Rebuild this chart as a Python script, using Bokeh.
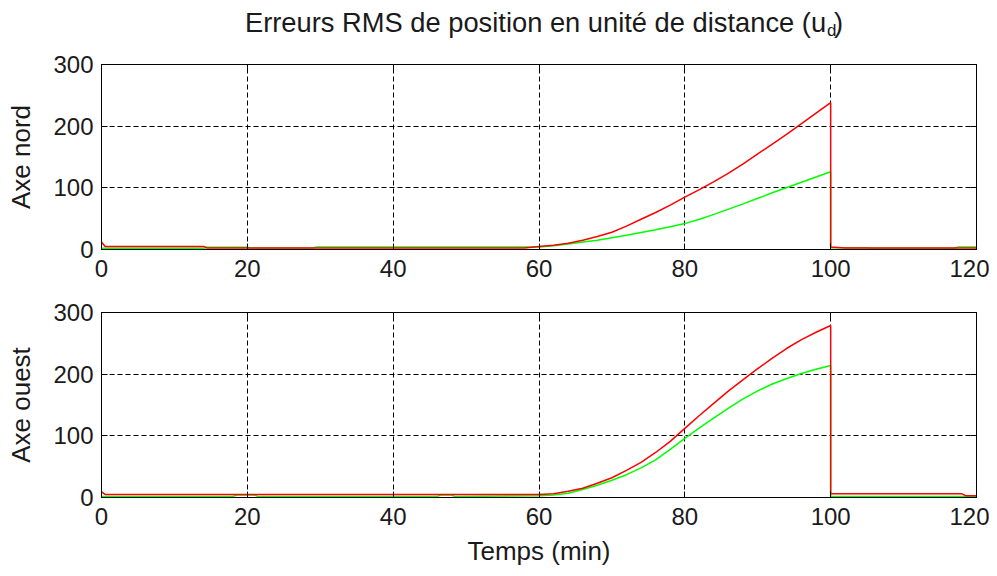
from bokeh.plotting import figure
from bokeh.layouts import column
from bokeh.models import Range1d, FixedTicker, LinearAxis, Label
from bokeh.embed import file_html
from bokeh.resources import INLINE

# ---------------- data ----------------
x_ticks = [0, 20, 40, 60, 80, 100, 120]
y_ticks = [0, 100, 200, 300]

title_main = "Erreurs RMS de position en unité de distance (u"
title_sub = "d"
title_end = ")"
xlabel = "Temps (min)"
ylabel_top = "Axe nord"
ylabel_bot = "Axe ouest"

# time in minutes: flat part, growth from 60 to 100, drop at 100, flat part
t_top_red = [0, 0.5, 14, 14.5, 58, 60, 62, 64, 66, 68, 70, 72, 74, 76, 78, 80, 82, 84, 86, 88, 90,
             92, 94, 96, 98, 100, 100, 102, 120]
nord_red = [12, 5, 5, 2.5, 2.5, 5, 7, 10, 15, 21, 28, 38, 49, 60, 72, 85, 97, 110, 124, 139, 155,
            171, 187, 204, 221, 238, 4, 2.5, 2.5]

t_top_green = [0, 14, 14.5, 20, 20.5, 29, 29.5, 46, 46.5, 58, 60, 62, 64, 66, 68, 70, 72, 74, 76, 78,
               80, 82, 84, 86, 88, 90, 92, 94, 96, 98, 100, 100, 105, 105.5, 117, 117.5, 120]
nord_green = [2, 2, 3.5, 3.5, 2.5, 2.5, 4, 4, 4, 4, 4, 6, 9, 12, 15, 19, 23, 27.5, 32, 37,
              42, 49, 57, 65.5, 74, 83, 92, 100.5, 109, 117.5, 126, 3, 3, 2, 2, 4, 4]

t_bot_red = [0, 0.5, 60, 62, 64, 66, 68, 70, 72, 74, 76, 78, 80, 82, 84, 86, 88, 90, 92, 94, 96,
             98, 100, 100, 118, 118.5, 120]
ouest_red = [9, 5, 5, 6, 10, 15, 23, 32, 44, 57, 73, 91, 112, 133, 153, 173, 191, 209, 226, 242, 256,
             268, 279, 6, 6, 3, 3]

t_bot_green = [0, 18, 18.5, 21, 21.5, 46, 46.5, 48, 48.5, 60, 62, 64, 66, 68, 70, 72, 74, 76, 78,
               80, 82, 84, 86, 88, 90, 92, 94, 96, 98, 100, 100, 120]
ouest_green = [1.5, 1.5, 4, 4, 1.5, 1.5, 4, 4, 1.5, 3, 4, 7, 13, 20, 28, 37, 48, 61, 78,
               96, 113, 129, 145, 160, 173, 184, 193, 201, 208, 214, 1.5, 1.5]

FONT = "Liberation Sans"
TXT = "#1a1a1a"
RED = "#ff0000"
GREEN = "#00ff00"
W = 989


def make_panel(height, top, bottom, ylab, xlab=None):
    p = figure(width=W, height=height, x_range=Range1d(0, 120), y_range=Range1d(0, 300),
               output_backend="svg", toolbar_location=None,
               min_border_left=101, min_border_right=13,
               min_border_top=top, min_border_bottom=bottom)
    p.background_fill_color = "white"
    p.border_fill_color = "white"
    p.outline_line_color = "black"
    p.outline_line_width = 1
    p.outline_line_alpha = 1

    for ax, ticks in ((p.xaxis[0], x_ticks), (p.yaxis[0], y_ticks)):
        ax.ticker = FixedTicker(ticks=ticks)
        ax.major_tick_in = 6
        ax.major_tick_out = 0
        ax.minor_tick_line_color = None
        ax.axis_line_color = "black"
        ax.major_tick_line_color = "black"
        ax.major_label_text_font = FONT
        ax.major_label_text_font_size = "24px"
        ax.major_label_text_color = TXT
        ax.axis_label_text_font = FONT
        ax.axis_label_text_font_size = "26px"
        ax.axis_label_text_font_style = "normal"
        ax.axis_label_text_color = TXT
    p.xaxis[0].major_label_standoff = 10
    p.yaxis[0].major_label_standoff = 8
    p.yaxis[0].axis_label = ylab
    p.yaxis[0].axis_label_standoff = 14
    if xlab:
        p.xaxis[0].axis_label = xlab
        p.xaxis[0].axis_label_standoff = 8

    # mirrored ticks (box on), labels not drawn
    top_ax = LinearAxis(ticker=FixedTicker(ticks=x_ticks), major_tick_in=6, major_tick_out=0,
                        minor_tick_line_color=None, major_label_text_font_size="1px",
                        major_label_text_color=None,
                        major_label_standoff=0, axis_line_color="black")
    right_ax = LinearAxis(ticker=FixedTicker(ticks=y_ticks), major_tick_in=6, major_tick_out=0,
                          minor_tick_line_color=None, major_label_text_font_size="1px",
                          major_label_text_color=None,
                          major_label_standoff=0, axis_line_color="black")
    p.add_layout(top_ax, "above")
    p.add_layout(right_ax, "right")

    for g in (p.xgrid[0], p.ygrid[0]):
        g.grid_line_color = "black"
        g.grid_line_dash = "5 3"
        g.grid_line_width = 1
        g.grid_line_alpha = 1
    p.xgrid[0].ticker = FixedTicker(ticks=x_ticks)
    p.ygrid[0].ticker = FixedTicker(ticks=y_ticks)
    return p


# ---- title strip (its own figure so the text is inside a frame) ----
TH = 50
pt = figure(width=W, height=TH, x_range=Range1d(0, W), y_range=Range1d(0, TH),
            output_backend="svg", toolbar_location=None,
            x_axis_location=None, y_axis_location=None,
            min_border=0, min_border_left=0, min_border_right=0,
            min_border_top=0, min_border_bottom=0)
pt.outline_line_color = None
pt.grid.visible = False
pt.background_fill_color = "white"
pt.border_fill_color = "white"
tx = 819
ty = TH - 22
pt.add_layout(Label(x=tx, y=ty, text=title_main, text_align="right",
                    text_baseline="middle", text_font=FONT, text_font_size="27.3px",
                    text_color=TXT))
pt.add_layout(Label(x=tx + 1, y=ty - 8, text=title_sub, text_align="left",
                    text_baseline="middle", text_font=FONT, text_font_size="17px",
                    text_color=TXT))
pt.add_layout(Label(x=tx + 9, y=ty, text=title_end, text_align="left",
                    text_baseline="middle", text_font=FONT, text_font_size="27.3px",
                    text_color=TXT))

p1 = make_panel(242, 14, 43, ylabel_top)
p1.line(t_top_green, nord_green, line_color=GREEN, line_width=1.5)
p1.line(t_top_red, nord_red, line_color=RED, line_width=1.5)

p2 = make_panel(276, 20, 70, ylabel_bot, xlabel)
p2.line(t_bot_green, ouest_green, line_color=GREEN, line_width=1.5)
p2.line(t_bot_red, ouest_red, line_color=RED, line_width=1.5)

layout = column(pt, p1, p2)
open("out.html", "w").write(file_html(layout, INLINE))
